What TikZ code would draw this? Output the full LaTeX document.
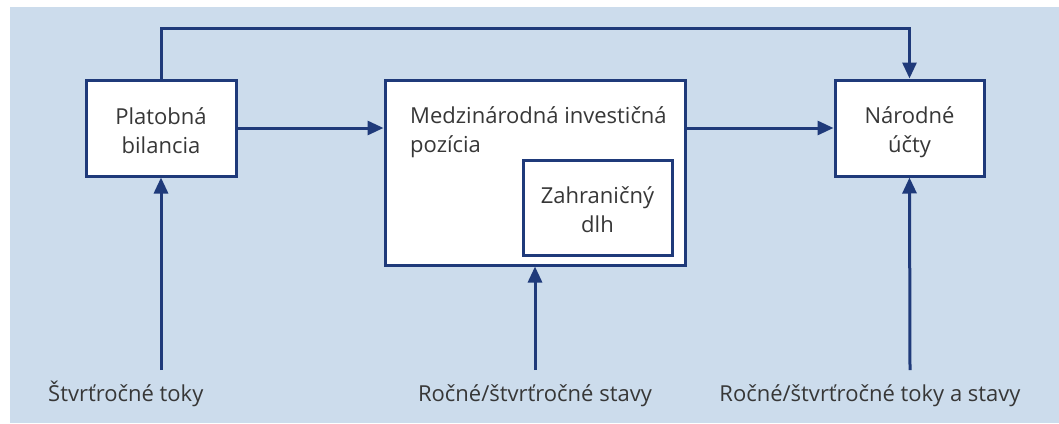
\documentclass[tikz,border=0pt]{standalone}
\usepackage{fontspec}
\setmainfont{Open Sans}
\usetikzlibrary{arrows.meta}
\definecolor{bg}{RGB}{204,220,236}
\definecolor{ln}{RGB}{31,58,122}
\definecolor{tx}{RGB}{55,55,55}
\begin{document}
\begin{tikzpicture}[x=1pt,y=-1pt,
  box/.style={draw=ln,line width=3pt,fill=white,inner sep=0pt},
  conn/.style={draw=ln,line width=3pt},
  arr/.style={conn,-{Triangle[length=16pt,width=14pt]}},
  txt/.style={text=tx,font=\fontsize{22}{28.5}\selectfont,inner sep=0pt}]
\useasboundingbox (0,0) rectangle (1059,423);
\fill[bg] (10,7) rectangle (1059,423);
% boxes
\node[box,minimum width=150pt,minimum height=96pt] (pb) at (161,128) {};
\node[box,minimum width=300pt,minimum height=185pt] (mip) at (535,172.5) {};
\node[box,minimum width=149pt,minimum height=95pt] (zd) at (597.5,207.5) {};
\node[box,minimum width=149pt,minimum height=96pt] (nu) at (909.5,128) {};
% texts (base anchor = last line's baseline)
\node[txt,anchor=base,align=center] (tpb) at (161,153) {Platobná\\bilancia};
\node[txt,anchor=base west,align=left] (tmip) at (410,152) {Medzinárodná investičná\\pozícia};
\node[txt,anchor=base,align=center] (tzd) at (597.5,232) {Zahraničný\\dlh};
\node[txt,anchor=base,align=center] (tnu) at (909.5,152) {Národné\\účty};
\node[txt,anchor=base west] (l1) at (48,401) {Štvrťročné toky};
\node[txt,anchor=base] (l2) at (535,401) {Ročné/štvrťročné stavy};
\node[txt,anchor=base] (l3) at (870,401) {Ročné/štvrťročné toky a stavy};
% source points
\coordinate (s1) at (161,370);
\coordinate (s2) at (535,370);
\coordinate (s3) at (910,370);
% connectors
\draw[arr] (pb.east) -- (pb.east -| mip.west);
\draw[arr] (nu.west -| mip.east) -- (nu.west);
\draw[arr] (pb.north) -- ++(0,-50) -| (nu.north);
\draw[arr] (s1) -- (pb.south);
\draw[arr] (s2) -- (mip.south);
\draw[arr] (s3) -- (nu.south);
\end{tikzpicture}
\end{document}
